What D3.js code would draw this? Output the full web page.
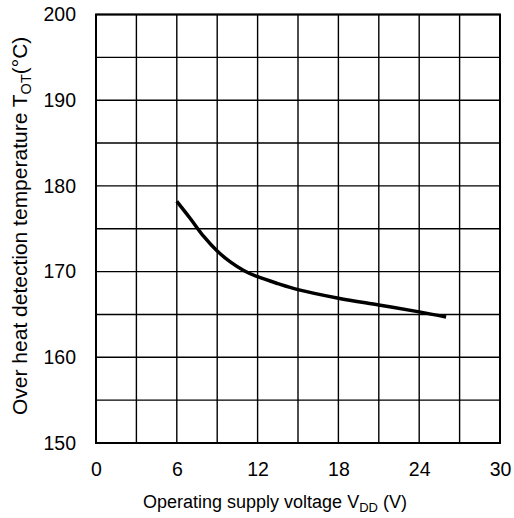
<!DOCTYPE html>
<html><head><meta charset="utf-8">
<script src="https://cdn.jsdelivr.net/npm/d3@7"></script>
<style>body{margin:0;background:#fff}svg{display:block}text{font-family:"Liberation Sans",Arial,sans-serif;fill:#000}</style>
</head><body><svg id="c" width="514" height="518"></svg>
<script>
const voltage = [6, 7, 8, 9, 10, 11, 12, 13.5, 15, 18, 21, 24, 26];
const temperature = [178.2, 176.2, 174.1, 172.4, 171.1, 170.1, 169.4, 168.6, 167.9, 166.9, 166.1, 165.3, 164.7];
const xTicks = [0, 6, 12, 18, 24, 30];
const yTicks = [150, 160, 170, 180, 190, 200];
const xGrid = d3.range(0, 31, 3);
const yGrid = d3.range(150, 201, 5);

const svg = d3.select("#c");
const L = 96, R = 500, T = 14.5, B = 443;
const x = d3.scaleLinear().domain([0, 30]).range([L, R]);
const y = d3.scaleLinear().domain([150, 200]).range([B, T]);

const g = svg.append("g");
g.selectAll(".vg").data(xGrid).join("line")
  .attr("x1", d => x(d)).attr("x2", d => x(d)).attr("y1", T).attr("y2", B)
  .attr("stroke", "#000").attr("stroke-width", 1.4);
g.selectAll(".hg").data(yGrid).join("line")
  .attr("y1", d => y(d)).attr("y2", d => y(d)).attr("x1", L).attr("x2", R)
  .attr("stroke", "#000").attr("stroke-width", 1.4);
g.append("rect").attr("x", L).attr("y", T).attr("width", R - L).attr("height", B - T)
  .attr("fill", "none").attr("stroke", "#000").attr("stroke-width", 2);

const xAxis = svg.append("g").attr("transform", `translate(0,${B})`)
  .call(d3.axisBottom(x).tickValues(xTicks).tickSize(0).tickPadding(19));
xAxis.select(".domain").remove();
xAxis.selectAll("text").attr("font-size", 19.5).attr("font-family", "Liberation Sans, Arial, sans-serif");

const yAxis = svg.append("g").attr("transform", `translate(${L},0)`)
  .call(d3.axisLeft(y).tickValues(yTicks).tickSize(0).tickPadding(20));
yAxis.select(".domain").remove();
yAxis.selectAll("text").attr("font-size", 19.5).attr("font-family", "Liberation Sans, Arial, sans-serif");

const pts = voltage.map((v, i) => [v, temperature[i]]);
svg.append("path").datum(pts)
  .attr("d", d3.line().x(d => x(d[0])).y(d => y(d[1])).curve(d3.curveCatmullRom))
  .attr("fill", "none").attr("stroke", "#000").attr("stroke-width", 3.5);

const xt = svg.append("text").attr("x", 143).attr("y", 508).attr("font-size", 18);
xt.append("tspan").text("Operating supply voltage V");
xt.append("tspan").attr("font-size", 13).attr("dy", 4).text("DD");
xt.append("tspan").attr("dy", -4).text(" (V)");

const yt = svg.append("text").attr("transform", "translate(26.5,415) rotate(-90)").attr("font-size", 21);
yt.append("tspan").text("Over heat detection temperature T");
yt.append("tspan").attr("font-size", 14.5).attr("dy", 4).text("OT");
yt.append("tspan").attr("dy", -4).text("(°C)");
</script></body></html>
